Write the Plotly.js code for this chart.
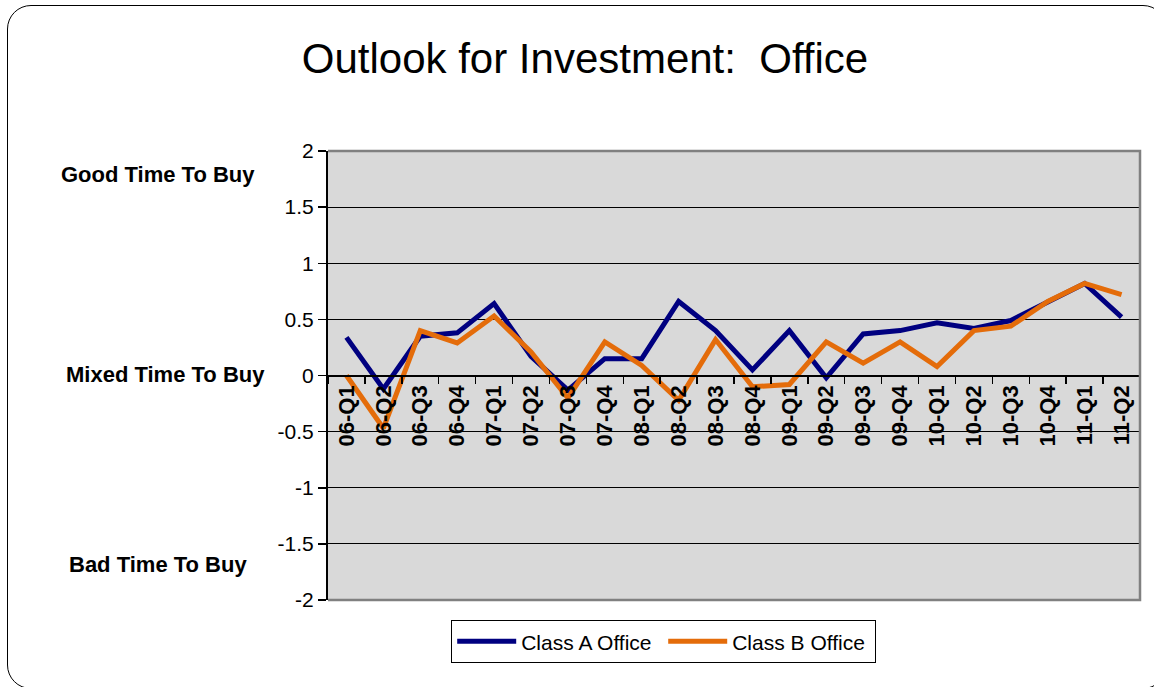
<!DOCTYPE html>
<html>
<head>
<meta charset="utf-8">
<script src="https://cdn.plot.ly/plotly-3.0.1.min.js"></script>
<style>
  html, body { margin: 0; padding: 0; width: 1154px; height: 687px; overflow: hidden; background: #fff; }
  #frame { position: absolute; left: 7px; top: 5px; width: 1160px; height: 684px; border: 1.5px solid #000; border-radius: 24px; box-sizing: border-box; z-index: 0; }
  #chart { position: absolute; left: 0; top: 0; width: 1154px; height: 687px; z-index: 1; }
</style>
</head>
<body>
<div id="frame"></div>
<div id="chart"></div>
<script>
const categories = ["06-Q1","06-Q2","06-Q3","06-Q4","07-Q1","07-Q2","07-Q3","07-Q4","08-Q1","08-Q2","08-Q3","08-Q4","09-Q1","09-Q2","09-Q3","09-Q4","10-Q1","10-Q2","10-Q3","10-Q4","11-Q1","11-Q2"];
const classA = [0.34, -0.12, 0.35, 0.38, 0.64, 0.17, -0.13, 0.15, 0.15, 0.66, 0.40, 0.05, 0.40, -0.02, 0.37, 0.40, 0.47, 0.42, 0.49, 0.66, 0.82, 0.52];
const classB = [0.00, -0.47, 0.40, 0.29, 0.53, 0.21, -0.20, 0.30, 0.09, -0.22, 0.32, -0.10, -0.08, 0.30, 0.11, 0.30, 0.08, 0.40, 0.44, 0.66, 0.82, 0.72];
const seriesNames = ["Class A Office", "Class B Office"];
const yTickVals = [-2, -1.5, -1, -0.5, 0, 0.5, 1, 1.5, 2];
const yTickLabels = ["-2", "-1.5", "-1", "-0.5", "0", "0.5", "1", "1.5", "2"];
const sideLabels = ["Good Time To Buy", "Mixed Time To Buy", "Bad Time To Buy"];
const titleText = "Outlook for Investment:\u00a0 Office";

const FONT = "Liberation Sans, Arial, Helvetica, sans-serif";

const traces = [
  { x: categories, y: classA, name: seriesNames[0], type: "scatter", mode: "lines",
    line: { color: "#000080", width: 5 } },
  { x: categories, y: classB, name: seriesNames[1], type: "scatter", mode: "lines",
    line: { color: "#E46C0A", width: 5 } }
];

const layout = {
  width: 1154, height: 687,
  margin: { l: 328, r: 14, t: 151, b: 87, pad: 0 },
  paper_bgcolor: "rgba(0,0,0,0)",
  plot_bgcolor: "#D9D9D9",
  font: { family: FONT, color: "#000", size: 20 },
  title: { text: titleText, font: { family: FONT, size: 42, color: "#000" },
           x: 585 / 1154, xref: "container", xanchor: "center",
           y: 1 - 58 / 687, yref: "container", yanchor: "middle" },
  showlegend: true,
  legend: { orientation: "h", x: (451 - 328) / 812, xanchor: "left", xref: "paper",
            y: (600 - 620) / 449, yanchor: "top", yref: "paper",
            bgcolor: "#fff", bordercolor: "#000", borderwidth: 1.2,
            font: { family: FONT, size: 21, color: "#000" }, itemwidth: 59,
            entrywidth: 137, entrywidthmode: "pixels",
            traceorder: "normal" },
  xaxis: {
    type: "category", anchor: "free", position: 0.5,
    showline: true, linecolor: "#000", linewidth: 2,
    ticks: "outside", ticklen: 7, tickwidth: 1.5, tickcolor: "#000",
    tickson: "boundaries", tickangle: -90,
    tickfont: { family: FONT, size: 22, weight: "bold", color: "#000" },
    showgrid: false, zeroline: false, automargin: false,
    range: [-0.5, categories.length - 0.5], fixedrange: true
  },
  yaxis: {
    range: [-2, 2], tickmode: "array", tickvals: yTickVals, ticktext: yTickLabels,
    showline: true, linecolor: "#000", linewidth: 2,
    ticks: "outside", ticklen: 8, tickwidth: 1.5, tickcolor: "#000",
    showgrid: true, gridcolor: "#000", gridwidth: 1.2, zeroline: false,
    tickfont: { family: FONT, size: 21, color: "#000" }, automargin: false,
    fixedrange: true
  },
  shapes: [
    { type: "path", xref: "paper", yref: "paper", path: "M0,1 L1,1 L1,0 L0,0",
      line: { color: "#808080", width: 2.5 }, layer: "above" }
  ],
  annotations: [
    { text: sideLabels[0], xref: "paper", yref: "paper", x: (158 - 328) / 812, y: (600 - 174) / 449,
      xanchor: "center", yanchor: "middle", showarrow: false,
      font: { family: FONT, size: 22, weight: "bold", color: "#000" } },
    { text: sideLabels[1], xref: "paper", yref: "paper", x: (165 - 328) / 812, y: (600 - 374) / 449,
      xanchor: "center", yanchor: "middle", showarrow: false,
      font: { family: FONT, size: 22, weight: "bold", color: "#000" } },
    { text: sideLabels[2], xref: "paper", yref: "paper", x: (158 - 328) / 812, y: (600 - 564) / 449,
      xanchor: "center", yanchor: "middle", showarrow: false,
      font: { family: FONT, size: 22, weight: "bold", color: "#000" } }
  ]
};

Plotly.newPlot("chart", traces, layout, { displayModeBar: false, staticPlot: true });
</script>
</body>
</html>
